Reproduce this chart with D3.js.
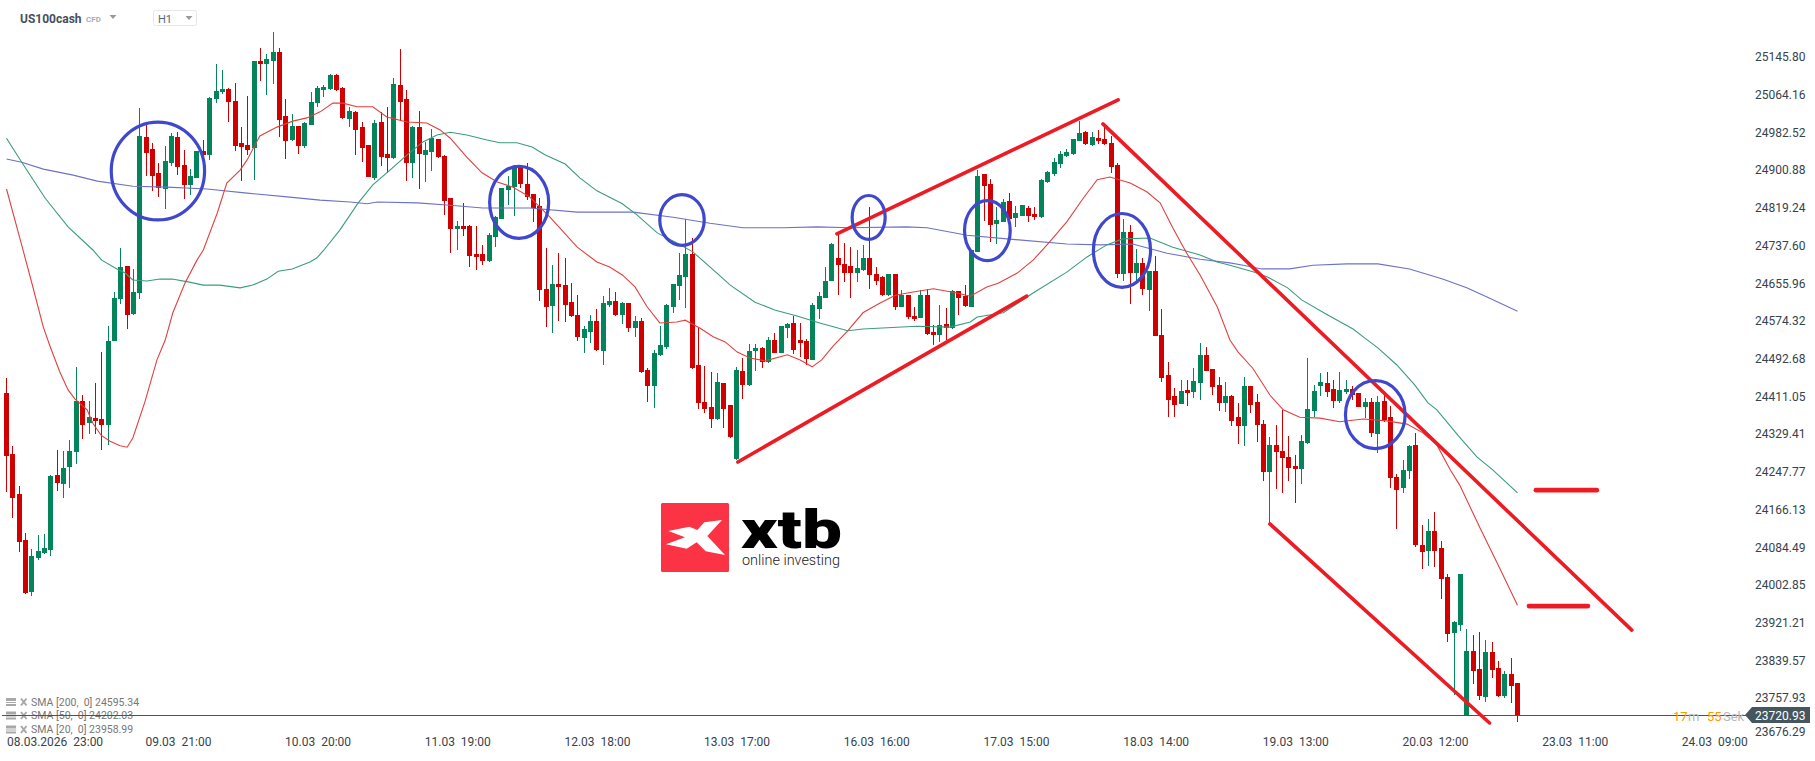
<!DOCTYPE html>
<html><head><meta charset="utf-8">
<style>html,body{margin:0;padding:0;background:#fff;overflow:hidden}svg{display:block}text{font-family:Roboto,sans-serif;white-space:pre}</style>
<script src="https://cdn.jsdelivr.net/npm/d3@7/dist/d3.min.js"></script>
</head><body><svg id="c" width="1815" height="761"></svg>
<script>
const opens=[24418,24286,24200,24100,23988,24061,24072,24078,24241,24221,
24258,24291,24401,24353,24364,24362,24349,24531,24622,24693,
24589,24635,24973,24947,24895,24860,24916,24973,24912,24869,
24884,24942,24934,25055,25070,25077,25051,24960,24955,24949,
25137,25131,25137,25157,25018,24966,24996,24953,24999,25046,
25074,25077,25107,25079,25012,25027,24994,24955,24884,25005,
24936,24927,25085,25055,24916,24994,24934,24940,24968,24931,
24840,24773,24780,24780,24719,24719,24704,24756,24795,24858,
24864,24908,24871,24849,24823,24644,24607,24654,24652,24615,
24587,24537,24550,24574,24509,24609,24618,24587,24613,24559,
24574,24468,24433,24501,24518,24605,24650,24670,24719,24479,
24399,24388,24362,24440,24392,24275,24466,24436,24509,24516,
24485,24533,24505,24559,24570,24533,24531,24490,24600,24624,
24661,24711,24698,24693,24678,24685,24711,24676,24670,24630,
24676,24605,24630,24585,24581,24630,24550,24544,24568,24559,
24639,24628,24605,24724,24892,24871,24784,24789,24834,24797,
24802,24819,24806,24799,24875,24892,24914,24931,24936,24964,
24983,24955,24970,24968,24960,24912,24676,24767,24678,24700,
24641,24682,24544,24457,24412,24395,24425,24421,24440,24501,
24470,24436,24397,24412,24366,24347,24433,24399,24351,24247,
24306,24293,24280,24260,24254,24310,24379,24433,24440,24427,
24401,24420,24427,24418,24388,24399,24330,24401,24366,24236,
24213,24250,24306,24089,24076,24120,24083,24020,23899,23916,
23719,23860,23821,23760,23858,23823,23762,23810,23790];
const highs=[24451,24304,24217,24115,24081,24111,24113,24240,24295,24293,
24317,24475,24414,24401,24440,24507,24563,24637,24732,24694,
24687,25035,24999,24960,24916,24953,24981,24983,24944,24903,
24943,24966,25059,25131,25118,25079,25090,24994,25061,25138,
25165,25152,25200,25165,25055,25022,24997,25004,25070,25083,
25085,25109,25108,25080,25038,25028,25005,24956,25009,25027,
25038,25100,25163,25074,24996,25029,24962,24990,24969,24934,
24841,24791,24830,24782,24780,24739,24765,24802,24863,24888,
24912,24912,24916,24850,24840,24732,24696,24721,24711,24657,
24630,24563,24587,24600,24628,24646,24637,24615,24614,24585,
24581,24472,24511,24563,24611,24655,24721,24795,24754,24559,
24477,24464,24462,24441,24393,24475,24494,24524,24524,24517,
24540,24548,24564,24569,24585,24570,24535,24613,24637,24691,
24743,24767,24743,24734,24728,24739,24821,24691,24671,24677,
24677,24641,24631,24605,24641,24644,24566,24609,24602,24641,
24640,24652,24729,24901,24893,24882,24821,24838,24851,24823,
24826,24823,24821,24881,24898,24927,24942,24947,24969,25007,
24986,24983,24988,24999,24975,24916,24795,24782,24730,24711,
24683,24715,24600,24485,24429,24447,24447,24472,24527,24518,
24471,24453,24442,24413,24397,24453,24434,24416,24360,24323,
24349,24382,24325,24284,24327,24494,24436,24462,24464,24447,
24464,24447,24433,24419,24407,24407,24412,24418,24390,24243,
24273,24306,24332,24133,24146,24161,24098,24026,23924,24027,
23907,23894,23901,23884,23879,23838,23816,23845,23791];
const lows=[24204,24148,24074,23983,23979,24057,24070,24065,24206,24191,
24213,24265,24319,24330,24330,24295,24306,24530,24611,24557,
24588,24622,24888,24856,24843,24817,24910,24890,24838,24847,
24883,24933,24923,25046,25066,25005,24942,24877,24934,24880,
25094,25064,25087,24973,24925,24965,24936,24949,24998,25038,
25059,25074,25072,25012,24994,24934,24918,24885,24880,24910,
24895,24926,25007,24877,24884,24860,24875,24899,24928,24804,
24721,24728,24758,24691,24685,24696,24703,24734,24794,24825,
24802,24862,24836,24789,24618,24561,24548,24574,24572,24583,
24531,24505,24527,24510,24479,24605,24585,24568,24550,24540,
24462,24399,24386,24498,24514,24592,24620,24602,24471,24384,
24375,24343,24360,24343,24322,24274,24405,24433,24466,24472,
24484,24504,24504,24537,24503,24496,24479,24489,24579,24623,
24660,24630,24659,24624,24659,24682,24644,24652,24628,24629,
24598,24604,24579,24574,24580,24545,24522,24529,24533,24558,
24587,24605,24604,24723,24791,24745,24741,24788,24794,24778,
24801,24789,24793,24797,24874,24888,24905,24930,24934,24963,
24956,24953,24957,24956,24895,24667,24661,24611,24659,24630,
24596,24541,24442,24366,24366,24394,24390,24407,24403,24465,
24414,24379,24377,24347,24308,24304,24375,24312,24228,24135,
24210,24202,24228,24180,24221,24309,24366,24412,24410,24386,
24397,24416,24403,24387,24364,24323,24288,24356,24213,24124,
24202,24232,24085,24037,24044,24042,23972,23879,23765,23903,
23718,23788,23754,23749,23801,23761,23758,23747,23706];
const closes=[24282,24191,24096,23985,24065,24076,24083,24239,24224,24256,
24293,24401,24349,24366,24358,24349,24531,24624,24691,24587,
24637,24975,24938,24888,24862,24921,24975,24908,24869,24888,
24942,24934,25057,25072,25077,25048,24953,24951,24944,25137,
25131,25142,25157,25009,24964,24996,24953,25003,25048,25079,
25081,25107,25074,25014,25029,24988,24949,24886,25003,24929,
24927,25087,25048,24916,24994,24936,24944,24970,24929,24834,
24773,24780,24773,24715,24713,24704,24760,24799,24862,24866,
24905,24871,24843,24819,24641,24605,24654,24648,24609,24585,
24540,24557,24574,24511,24613,24618,24587,24613,24559,24574,
24464,24433,24505,24522,24609,24654,24674,24719,24472,24397,
24384,24362,24442,24384,24323,24468,24436,24509,24516,24485,
24533,24505,24563,24568,24511,24527,24492,24609,24628,24661,
24741,24696,24678,24678,24689,24711,24674,24661,24630,24676,
24605,24630,24583,24579,24630,24546,24544,24566,24559,24639,
24624,24607,24728,24888,24866,24782,24793,24832,24795,24808,
24825,24802,24799,24880,24897,24918,24936,24940,24968,24981,
24957,24973,24964,24957,24908,24676,24767,24678,24700,24644,
24682,24542,24451,24403,24392,24423,24418,24444,24501,24466,
24431,24397,24412,24358,24347,24433,24392,24349,24247,24306,
24291,24278,24256,24254,24314,24384,24423,24442,24420,24401,
24425,24427,24414,24388,24399,24332,24399,24360,24234,24208,
24252,24304,24089,24074,24120,24076,24016,23897,23923,24026,
23860,23816,23762,23858,23819,23762,23810,23784,23720.93];

const sma20Bars=[0,2.6,4,5.8,6.9,8.4,9.7,10.8,12.7,13.6,14.9,16.3,17.9,19,19.9,21.8,23.7,25,26.2,28.1,30,31,33.2,34.7,36.8,37.9,39.9,42.6,45.1,47.3,49.4,51.4,53,55.2,57.7,59.9,63.1,66.2,68.3,69.9,72.5,74.9,77.3,79.8,82.4,85.6,89.9,93,95,97,99,100.9,102.9,105.6,106.9,109.2,111.3,113.2,115.1,117.1,119.5,123,125,126.9,128.4,130.2,132.5,134.9,137.6,140,142.8,146,149.7,151.8,154.4,156.2,159.2,161.7,163.9,167,169.6,171.8,173.8,177,179.6,181.7,183.7,185.9,188,190.7,192.7,194,196.3,199,201.1,203.7,206.9,210,213.7,217.4,220.6,223.1,225.3,227.4,228.9,232.1,235.2,238];
const sma20Values=[24860,24728,24656,24561,24518,24464,24425,24405,24382,24353,24327,24314,24304,24301,24321,24399,24490,24533,24592,24656,24706,24728,24808,24873,24901,24923,24975,24994,25007,25014,25027,25046,25046,25038,25038,25016,25005,25003,24988,24970,24929,24895,24875,24864,24843,24799,24734,24702,24691,24674,24648,24605,24570,24572,24576,24559,24540,24529,24507,24494,24488,24501,24490,24475,24490,24520,24553,24592,24613,24630,24637,24644,24635,24628,24648,24656,24678,24706,24739,24789,24840,24880,24886,24873,24854,24830,24776,24721,24674,24605,24533,24507,24472,24414,24382,24366,24364,24356,24362,24358,24351,24332,24306,24252,24219,24126,24039,23958.99];
const sma50Bars=[0,2.4,6.1,9.7,13.6,15,17.4,18.7,19.9,22.1,24.2,26.1,28.6,31,33.6,36.8,38.8,41,42.8,45,47.8,48.9,50,52.5,55.4,57.7,60.4,63.1,65.6,67.8,69.9,72.5,75.7,77.7,80.4,82.8,84.8,88,90.3,93,97,99.3,102.5,105.6,108.1,111.9,114,117.9,121,124.5,128.1,132.5,134.9,138,143.4,148.6,151.8,152.9,157,161.7,167,170.2,173.3,175.8,180.1,183.7,188,190.7,192.7,196.6,198.7,201.8,204,207.9,212.1,213.7,216,219,221.8,223.9,225.3,228.6,231.6,234.1,238];
const sma50Values=[24970,24918,24840,24778,24728,24706,24687,24678,24663,24661,24665,24665,24659,24652,24652,24646,24652,24665,24682,24687,24702,24711,24728,24771,24830,24869,24901,24934,24962,24977,24983,24977,24966,24960,24960,24951,24934,24914,24884,24856,24828,24804,24765,24743,24724,24678,24652,24615,24598,24585,24570,24553,24557,24559,24563,24561,24572,24583,24592,24635,24680,24713,24739,24752,24754,24734,24717,24702,24695,24680,24669,24646,24620,24589,24557,24540,24516,24479,24436,24397,24382,24327,24280,24252,24202.03];
const sma200Bars=[0,2.4,5.8,10.5,14.3,19.9,25.3,31.6,37.9,44.2,49.4,54.1,56.8,58.4,64.7,69.9,75,82.4,89.9,98.7,105,110.8,116,122.3,127.7,132.9,141.8,145,151.3,157.6,167,172.2,177.4,182.8,188,192.7,194.8,197.7,202.1,205.8,211.1,216,221,226.2,230,233.2,238];
const sma200Values=[24925,24918,24903,24890,24877,24866,24864,24860,24851,24843,24836,24832,24828,24832,24830,24825,24819,24819,24810,24810,24799,24786,24776,24776,24778,24776,24778,24776,24760,24752,24741,24739,24741,24721,24708,24700,24695,24687,24687,24695,24698,24698,24687,24665,24646,24626,24595.34];

const priceLabels=["25145.80","25064.16","24982.52","24900.88","24819.24","24737.60","24655.96","24574.32","24492.68","24411.05","24329.41","24247.77","24166.13","24084.49","24002.85","23921.21","23839.57","23757.93","23676.29"];
const timeBars=[0,27,49,71,93,115,137,159,181,203,225,247,269];
const timeLabels=["08.03.2026  23:00","09.03  21:00","10.03  20:00","11.03  19:00","12.03  18:00","13.03  17:00","16.03  16:00","17.03  15:00","18.03  14:00","19.03  13:00","20.03  12:00","23.03  11:00","24.03  09:00"];
const legendLabels=["SMA [200,  0] 24595.34","SMA [50,  0] 24202.03","SMA [20,  0] 23958.99"];
const lastPrice=23720.93;

// hand-drawn annotations: [bar start, price start, bar end, price end]
const trendStartBar=[115.2,130.8,172.7,199,240.9,239.8];
const trendStartPrice=[24269,24763,25001,24135,24208,23957];
const trendEndBar=[160.7,175.1,256,233.6,250.5,249.1];
const trendEndPrice=[24628,25053,23905,23704,24208,23957];
const ringBarFrom=[16.5,76.1,102.9,133.2,150.9,171.2,210.9];
const ringBarTo=[31.2,85.4,109.9,138.4,158.1,180.2,220.3];
const ringPriceHigh=[25005,24909,24848,24846,24835,24807,24445];
const ringPriceLow=[24793,24753,24738,24751,24705,24647,24298];

const svg=d3.select("#c");
const x=d3.scaleLinear().domain([0,238]).range([6.5,1517.5]);
const y=d3.scaleLinear().domain([25145.8,23676.29]).range([57,735.76]);
const UP="#04845a",DOWN="#d00000";
const candles=opens.map((o,i)=>({i,o,h:highs[i],l:lows[i],c:closes[i]}));

const gc=svg.append("g").attr("shape-rendering","crispEdges");
gc.selectAll(".w").data(candles).join("rect")
  .attr("x",d=>Math.floor(x(d.i))).attr("width",1)
  .attr("y",d=>Math.round(y(d.h))).attr("height",d=>Math.max(1,Math.round(y(d.l))-Math.round(y(d.h))))
  .attr("fill",d=>d.c>=d.o?UP:DOWN);
gc.selectAll(".b").data(candles).join("rect")
  .attr("x",d=>Math.floor(x(d.i))-2).attr("width",5)
  .attr("y",d=>Math.round(y(Math.max(d.o,d.c))))
  .attr("height",d=>Math.max(1,Math.round(y(Math.min(d.o,d.c)))-Math.round(y(Math.max(d.o,d.c)))))
  .attr("fill",d=>d.c>=d.o?UP:DOWN);

const line=d3.line().x(d=>x(d[0])).y(d=>y(d[1]));
const smas=[[sma200Bars,sma200Values,"#6c72c6"],[sma50Bars,sma50Values,"#3b9c7c"],[sma20Bars,sma20Values,"#e2403f"]];
svg.append("g").selectAll("path").data(smas).join("path")
  .attr("d",s=>line(s[0].map((b,i)=>[b,s[1][i]])))
  .attr("fill","none").attr("stroke",s=>s[2]).attr("stroke-width",1.1);

// current price line
const py=Math.floor(y(lastPrice))+0.5;
svg.append("line").attr("x1",2).attr("x2",1746).attr("y1",py).attr("y2",py).attr("stroke","#46565f").attr("stroke-width",1);

// annotations
svg.append("g").selectAll("line").data(trendStartBar.map((b,i)=>i)).join("line")
  .attr("x1",i=>x(trendStartBar[i])).attr("y1",i=>y(trendStartPrice[i]))
  .attr("x2",i=>x(trendEndBar[i])).attr("y2",i=>y(trendEndPrice[i]))
  .attr("stroke","#ed1c24").attr("stroke-width",i=>i>=4?4.6:3.6).attr("stroke-linecap","round");
svg.append("g").selectAll("ellipse").data(ringBarFrom.map((b,i)=>i)).join("ellipse")
  .attr("cx",i=>(x(ringBarFrom[i])+x(ringBarTo[i]))/2)
  .attr("cy",i=>(y(ringPriceHigh[i])+y(ringPriceLow[i]))/2)
  .attr("rx",i=>(x(ringBarTo[i])-x(ringBarFrom[i]))/2)
  .attr("ry",i=>(y(ringPriceLow[i])-y(ringPriceHigh[i]))/2)
  .attr("fill","none").attr("stroke","#3f48cc").attr("stroke-width",3.2);

// logo
const lg=svg.append("g");
lg.append("rect").attr("x",661).attr("y",503).attr("width",68).attr("height",69).attr("rx",1.5).attr("fill","#fb3344");
const logoMark=[[85,153],[148,140],[172,150],[193,127],[246,120],[202,168],[255,225],[197,214],[170,187],[140,206],[78,193],[135,172]];
lg.append("polygon").attr("points",logoMark.map(p=>[640+p[0]/3,480+p[1]/3].join(",")).join(" ")).attr("fill","#fff");
lg.append("text").attr("x",741).attr("y",548).attr("font-size",54).attr("font-weight",900).attr("fill","#000")
  .attr("textLength",101).attr("lengthAdjust","spacingAndGlyphs").text("xtb");
lg.append("text").attr("x",742).attr("y",565).attr("font-size",15).attr("font-weight",300).attr("fill","#222")
  .attr("textLength",98).attr("lengthAdjust","spacingAndGlyphs").text("online investing");

// price axis
const yAxis=d3.axisRight(y).tickValues(priceLabels.map(Number)).tickFormat((d,i)=>priceLabels[i]).tickSize(0).tickPadding(0);
const ya=svg.append("g").attr("transform","translate(1755,0)").call(yAxis);
ya.select(".domain").remove();
ya.selectAll("text").attr("font-size",12).attr("fill","#36434d").style("font-family","Roboto,sans-serif");
ya.selectAll(".tick").filter(d=>d<23700).select("text").attr("y",-4);

// time axis
const xAxis=d3.axisBottom(x).tickValues(timeBars).tickFormat((d,i)=>timeLabels[i]).tickSize(0).tickPadding(0);
const xa=svg.append("g").attr("transform","translate(0,737)").call(xAxis);
xa.select(".domain").remove();
xa.selectAll("text").attr("font-size",12).attr("fill","#36434d").style("font-family","Roboto,sans-serif");
xa.selectAll(".tick").filter(d=>d===0).select("text").attr("text-anchor","start");

// price tag
svg.append("polygon").attr("points","1745,715 1752,707 1810,707 1810,723 1752,723").attr("fill","#46565f");
svg.append("text").attr("x",1755).attr("y",719.5).attr("font-size",12).attr("fill","#fff").text(lastPrice.toFixed(2));
const timerParts=[["17","#ff9800",1673],["m","#b4b8bb",1688],["55","#ff9800",1707],["Sek","#b4b8bb",1723]];
svg.append("g").selectAll("text").data(timerParts).join("text")
  .attr("x",t=>t[2]).attr("y",720.5).attr("font-size",13).attr("fill",t=>t[1]).text(t=>t[0]);

// header
svg.append("text").attr("x",20).attr("y",22.5).attr("font-size",12).attr("font-weight",700).attr("fill","#46505c").text("US100cash");
svg.append("text").attr("x",86).attr("y",22).attr("font-size",8).attr("font-weight",700).attr("fill","#a9adb1").text("CFD");
svg.append("polygon").attr("points","109.5,15 116.5,15 113,19").attr("fill","#9a9a9a");
svg.append("rect").attr("x",153.5).attr("y",10.5).attr("width",43).attr("height",15).attr("rx",2).attr("fill","#fff").attr("stroke","#e4e6e8");
svg.append("text").attr("x",158).attr("y",23).attr("font-size",11).attr("fill","#5a6570").text("H1");
svg.append("polygon").attr("points","185.5,16 192.5,16 189,20").attr("fill","#9a9a9a");

// legend
const lgY=[702,715.5,729.5];
legendLabels.forEach((t,i)=>{
  const g=svg.append("g").attr("transform","translate(0,"+lgY[i]+")");
  g.append("rect").attr("x",6).attr("y",-4).attr("width",10).attr("height",3).attr("fill","#a8a8a8");
  g.append("rect").attr("x",6).attr("y",0).attr("width",10).attr("height",1).attr("fill","#a8a8a8");
  g.append("rect").attr("x",6).attr("y",2).attr("width",10).attr("height",2).attr("fill","#a8a8a8");
  g.append("path").attr("d","M21,-3.5L26.5,3.5M26.5,-3.5L21,3.5").attr("stroke","#a8a8a8").attr("stroke-width",2).attr("fill","none");
  g.append("text").attr("x",31).attr("y",3.5).attr("font-size",10.5).attr("fill","#777").text(t);
});
// the price line runs over the middle legend row
svg.append("line").attr("x1",2).attr("x2",140).attr("y1",py).attr("y2",py).attr("stroke","#46565f").attr("stroke-width",1);
</script></body></html>
